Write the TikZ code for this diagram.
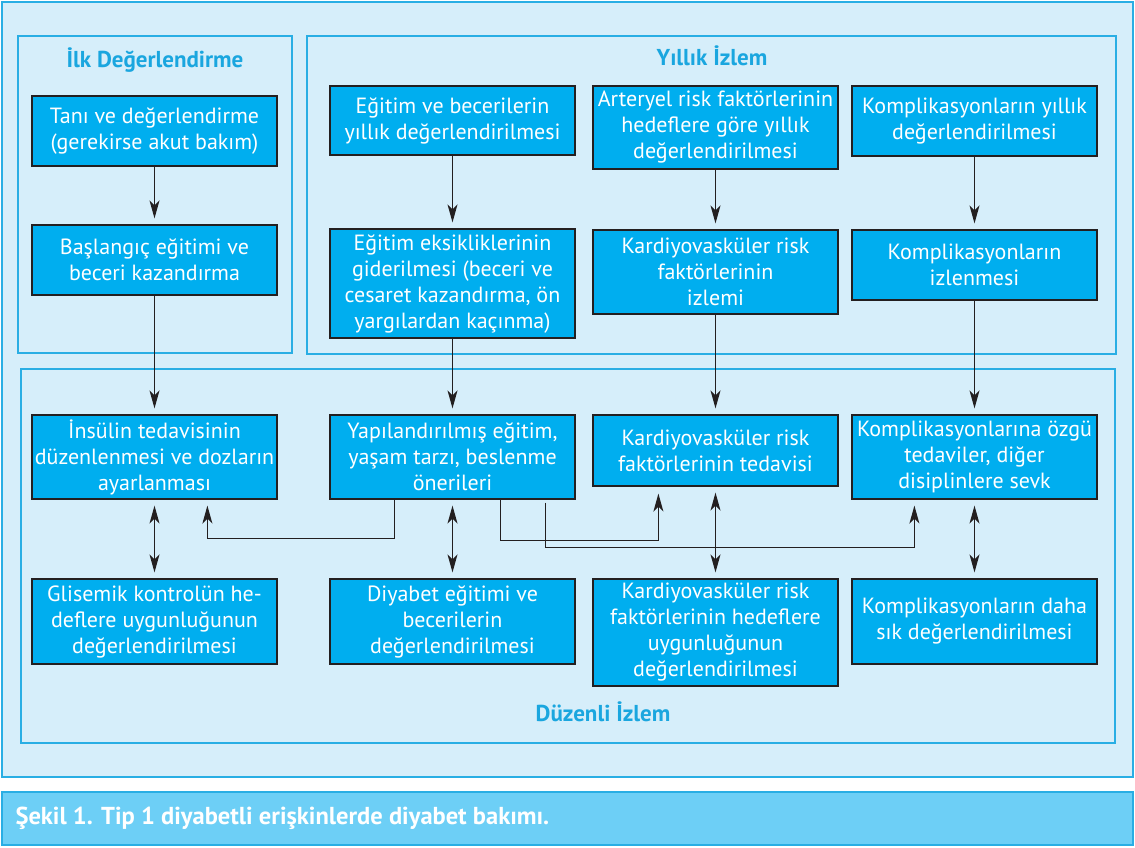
\documentclass[tikz,border=0pt]{standalone}
\usepackage{fontspec}
\setmainfont{PT Sans}
\usetikzlibrary{arrows.meta,calc}
\definecolor{framefill}{RGB}{214,238,250}
\definecolor{framedraw}{RGB}{41,174,228}
\definecolor{nodefill}{RGB}{0,174,239}
\definecolor{nodeline}{RGB}{35,31,32}
\definecolor{titlecol}{RGB}{26,166,223}
\definecolor{capfill}{RGB}{109,207,246}
\tikzset{
  frame/.style={draw=framedraw, line width=2pt, fill=framefill},
  stepbox/.style={draw=nodeline, line width=1.2pt, fill=nodefill, text=white, align=center,
    inner sep=0pt, minimum width=245pt, font=\fontsize{22}{26}\selectfont},
  ttl/.style={text=titlecol, font=\bfseries\fontsize{23}{26}\selectfont},
  arr/.style={draw=nodeline, line width=1.3pt, -{Stealth[length=18pt,width=10pt,inset=5pt]}, shorten >=6pt},
  darr/.style={draw=nodeline, line width=1.3pt, {Stealth[length=18pt,width=10pt,inset=5pt]}-{Stealth[length=18pt,width=10pt,inset=5pt]}, shorten >=6pt, shorten <=6pt},
  lin/.style={draw=nodeline, line width=1.3pt}
}
\begin{document}
\begin{tikzpicture}[x=1pt,y=-1pt]
\useasboundingbox (0,0) rectangle (1135,847);
% frames
\draw[frame] (2,2) rectangle (1133,777);
\draw[frame] (18,36) rectangle (292,353);
\draw[frame] (307,36) rectangle (1116,354);
\draw[frame] (21,369) rectangle (1115,743);
\draw[draw=framedraw, line width=2pt, fill=capfill] (2,792) rectangle (1133,845);
\node[anchor=west, text=white, font=\bfseries\fontsize{24.5}{28}\selectfont] (cap) at (12,818) {Şekil 1. Tip 1 diyabetli erişkinlerde diyabet bakımı.};
% titles
\node[ttl] (t1) at (155,60) {İlk Değerlendirme};
\node[ttl] (t2) at (712,56) {Yıllık İzlem};
\node[ttl] (t3) at (603,712) {Düzenli İzlem};
% column 1
\node[stepbox, minimum height=70pt] (a1) at (154.5,131) {Tanı ve değerlendirme\\(gerekirse akut bakım)};
\node[stepbox, minimum height=70pt] (a2) at (154.5,260) {Başlangıç eğitimi ve\\beceri kazandırma};
\node[stepbox, minimum height=84pt] (c1) at (154.5,457) {İnsülin tedavisinin\\düzenlenmesi ve dozların\\ayarlanması};
\node[stepbox, minimum height=85pt] (d1) at (154.5,621.5) {Glisemik kontrolün he-\\deflere uygunluğunun\\değerlendirilmesi};
% column 2
\node[stepbox, minimum height=69pt] (b2a) at (452.5,120.5) {Eğitim ve becerilerin\\yıllık değerlendirilmesi};
\node[stepbox, minimum height=109pt] (b2b) at (452.5,283.5) {Eğitim eksikliklerinin\\giderilmesi (beceri ve\\cesaret kazandırma, ön\\yargılardan kaçınma)};
\node[stepbox, minimum height=84pt] (c2) at (452.5,457) {Yapılandırılmış eğitim,\\yaşam tarzı, beslenme\\önerileri};
\node[stepbox, minimum height=85pt] (d2) at (452.5,621.5) {Diyabet eğitimi ve\\becerilerin\\değerlendirilmesi};
% column 3
\node[stepbox, minimum height=83pt] (b3a) at (715.5,127.5) {Arteryel risk faktörlerinin\\hedeflere göre yıllık\\değerlendirilmesi};
\node[stepbox, minimum height=84pt] (b3b) at (715.5,272) {Kardiyovasküler risk\\faktörlerinin\\izlemi};
\node[stepbox, minimum height=71pt] (c3) at (715.5,450.5) {Kardiyovasküler risk\\faktörlerinin tedavisi};
\node[stepbox, minimum height=107pt] (d3) at (715.5,632.5) {Kardiyovasküler risk\\faktörlerinin hedeflere\\uygunluğunun\\değerlendirilmesi};
% column 4
\node[stepbox, minimum height=70pt] (b4a) at (974.5,121) {Komplikasyonların yıllık\\değerlendirilmesi};
\node[stepbox, minimum height=70pt] (b4b) at (974.5,265) {Komplikasyonların\\izlenmesi};
\node[stepbox, minimum height=84pt] (c4) at (974.5,457) {Komplikasyonlarına özgü\\tedaviler, diğer\\disiplinlere sevk};
\node[stepbox, minimum height=85pt] (d4) at (974.5,621.5) {Komplikasyonların daha\\sık değerlendirilmesi};
% vertical arrows
\draw[arr] (a1) -- (a2);
\draw[arr] (a2) -- (c1);
\draw[arr] (b2a) -- (b2b);
\draw[arr] (b2b) -- (c2);
\draw[arr] (b3a) -- (b3b);
\draw[arr] (b3b) -- (c3);
\draw[arr] (b4a) -- (b4b);
\draw[arr] (b4b) -- (c4);
% double arrows
\draw[darr] (c1) -- (d1);
\draw[darr] (c2) -- (d2);
\draw[darr] (c3) -- (d3);
\draw[darr] (c4) -- (d4);
% connectors from c2
\draw[arr] ($(c2.south west)+(65,0)$) -- ++(0,39) -| ($(c1.south west)+(176,0)$);
\draw[arr, shorten >=7pt] ($(c2.south west)+(171,0)$) -- ++(0,41) -| ($(c3.south west)+(66,0)$);
\draw[arr, shorten <=3pt] ($(c2.south west)+(216,0)$) -- ++(0,48) -| ($(c4.south west)+(63,0)$);
\end{tikzpicture}
\end{document}
